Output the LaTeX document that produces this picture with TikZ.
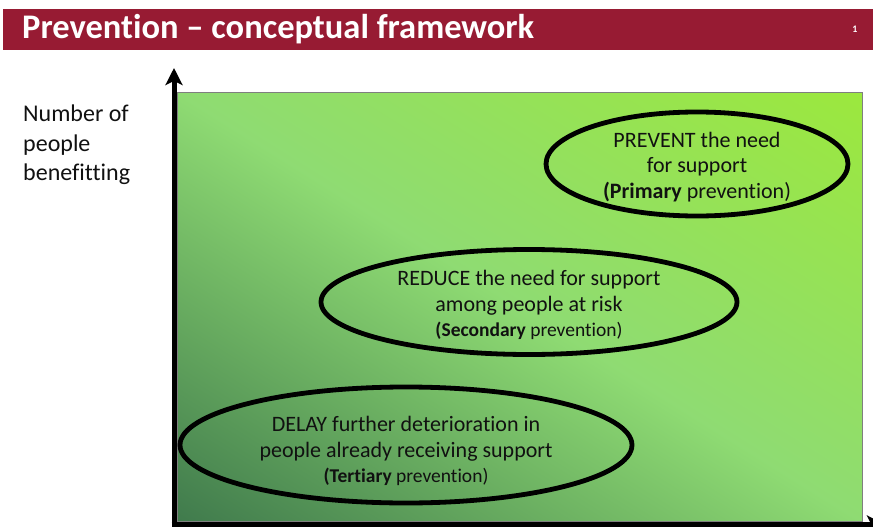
\documentclass[tikz,border=0pt]{standalone}
\usepackage{fontspec}
\setmainfont[Ligatures=NoCommon]{Carlito}
\usetikzlibrary{shapes.geometric,arrows.meta}

\definecolor{titlered}{HTML}{971B33}
\definecolor{framegray}{HTML}{7F7F7F}
\definecolor{inkblack}{HTML}{111111}

% Diagonal green field: dark in the lower left, light green across the
% middle, lime in the upper right.  t = (u+v)/2 over the unit square.
\pgfdeclarefunctionalshading{fieldgreen}{\pgfpointorigin}{\pgfpoint{100bp}{100bp}}{}{
 add 50 sub 100 div
 dup 0 lt {pop 0} if dup 1 gt {pop 1} if
 dup 0.5 lt
 {2 mul dup 0.31 mul 0.25 add exch dup 0.38 mul 0.48 add exch 0.15 mul 0.30 add}
 {0.5 sub 2 mul dup 0.05 mul 0.56 add exch dup 0.05 mul 0.86 add exch -0.21 mul 0.45 add}
 ifelse
}

\tikzset{
  ring/.style={ellipse, draw=black, line width=4.8pt, inner sep=0pt},
  ringtext/.style={align=center, text=inkblack, inner sep=0pt,
    font=\fontsize{22}{25.5}\selectfont},
  smallline/.style={font=\fontsize{19.5}{23}\selectfont},
  axisline/.style={line width=5pt, -{Stealth[length=17pt,width=17pt,inset=4pt]}},
}

\begin{document}
\begin{tikzpicture}[x=1pt,y=-1pt]
\useasboundingbox (0,0) rectangle (873,527);
\fill[white] (0,0) rectangle (873,527);

% title bar
\fill[titlered] (3,9) rectangle (873,50);
\node[anchor=west, text=white, inner sep=0pt, font=\fontsize{34.5}{36}\bfseries] (title)
  at (22,29) {Prevention – conceptual framework};
\node[text=white, inner sep=0pt, font=\fontsize{10}{12}\bfseries] (pagenum)
  at (855,29) {1};

% shaded field
\shade[shading=fieldgreen, draw=framegray, line width=1pt] (177,92) rectangle (862,521);

% axes
\coordinate (origin) at (174,524);
\coordinate (ytip) at (174,68);
\coordinate (xtip) at (884,524);
\draw[axisline] (174,526.5) -- (ytip);
\draw[axisline] (171.5,524) -- (xtip);

% axis label
\node[anchor=north west, align=left, inner sep=0pt, text=inkblack,
  font=\fontsize{24}{29.5}\selectfont] (ylabel) at (23,105)
  {Number of\\people\\benefitting};

% primary prevention
\node[ring, minimum width=302pt, minimum height=104pt] (primary) at (697,164) {};
\node[ringtext, yshift=-3pt] (primarytext) at (primary.center)
  {PREVENT the need\\for support\\\textbf{(Primary} prevention)};

% secondary prevention
\node[ring, minimum width=416pt, minimum height=105pt] (secondary) at (529,302) {};
\node[ringtext, yshift=-3pt] (secondarytext) at (secondary.center)
  {REDUCE the need for support\\among people at risk\\{\fontsize{19.5}{23}\selectfont\textbf{(Secondary} prevention)}};

% tertiary prevention
\node[ring, minimum width=452pt, minimum height=116pt] (tertiary) at (406,445) {};
\node[ringtext, yshift=-6pt] (tertiarytext) at (tertiary.center)
  {DELAY further deterioration in\\people already receiving support\\{\fontsize{19.5}{23}\selectfont\textbf{(Tertiary} prevention)}};
\end{tikzpicture}
\end{document}
